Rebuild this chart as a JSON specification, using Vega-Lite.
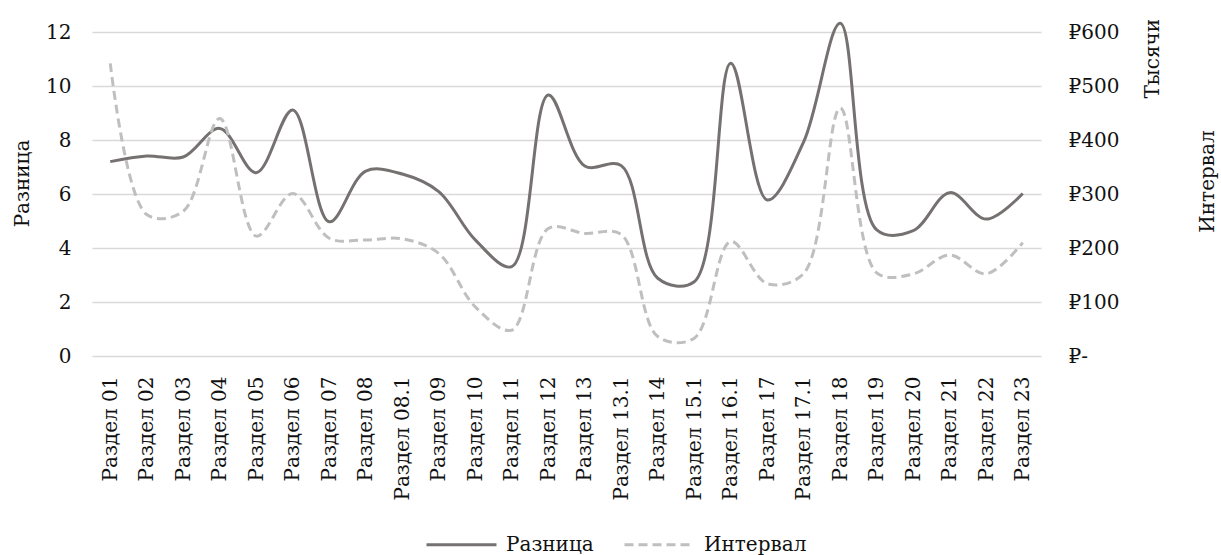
{
  "$schema": "https://vega.github.io/schema/vega-lite/v6.json",
  "width": 949,
  "height": 324,
  "autosize": {"type": "none"},
  "padding": {"left": 92, "top": 32, "right": 180, "bottom": 199},
  "background": "white",
  "config": {
    "font": "DejaVu Serif",
    "view": {"stroke": null}
  },
  "data": {
    "values": [
      {"s": "Раздел 01", "d": 7.2, "i": 542},
      {"s": "Раздел 02", "d": 7.41, "i": 262},
      {"s": "Раздел 03", "d": 7.37, "i": 268},
      {"s": "Раздел 04", "d": 8.43, "i": 440},
      {"s": "Раздел 05", "d": 6.79, "i": 222},
      {"s": "Раздел 06", "d": 9.11, "i": 301},
      {"s": "Раздел 07", "d": 4.97, "i": 218},
      {"s": "Раздел 08", "d": 6.85, "i": 215},
      {"s": "Раздел 08.1", "d": 6.74, "i": 217},
      {"s": "Раздел 09", "d": 6.09, "i": 190},
      {"s": "Раздел 10", "d": 4.3, "i": 91},
      {"s": "Раздел 11", "d": 3.31, "i": 48},
      {"s": "Раздел 12", "d": 9.67, "i": 236},
      {"s": "Раздел 13", "d": 7.04, "i": 227},
      {"s": "Раздел 13.1", "d": 7.05, "i": 225},
      {"s": "Раздел 14", "d": 2.88, "i": 36},
      {"s": "Раздел 15.1", "d": 2.75, "i": 33},
      {"s": "Раздел 16.1", "d": 10.84, "i": 212},
      {"s": "Раздел 17", "d": 5.78, "i": 134},
      {"s": "Раздел 17.1", "d": 7.94, "i": 153},
      {"s": "Раздел 18", "d": 12.32, "i": 459},
      {"s": "Раздел 19", "d": 4.67, "i": 154},
      {"s": "Раздел 20", "d": 4.64, "i": 152},
      {"s": "Раздел 21", "d": 6.05, "i": 187},
      {"s": "Раздел 22", "d": 5.07, "i": 152},
      {"s": "Раздел 23", "d": 6.02, "i": 210}
    ]
  },
  "layer": [
    {
      "mark": {"type": "line", "interpolate": "catmull-rom", "strokeWidth": 3},
      "encoding": {
        "x": {
          "field": "s", "type": "nominal", "sort": null,
          "scale": {"paddingInner": 0, "paddingOuter": 0},
          "axis": {"title": null, "labelAngle": -90, "labelAlign": "right", "labelBaseline": "middle", "labelPadding": 20, "labelFont": "DejaVu Serif", "labelFontSize": 20, "labelColor": "#111111", "labelLimit": 300, "ticks": false, "domain": false, "grid": false}
        },
        "y": {
          "field": "d", "type": "quantitative",
          "scale": {"domain": [0, 12], "nice": false, "zero": true},
          "axis": {"title": "Разница", "values": [0, 2, 4, 6, 8, 10, 12], "labelFont": "DejaVu Serif", "titleFont": "DejaVu Serif", "labelFontSize": 20, "labelColor": "#111111", "titleFontSize": 20, "titleFontWeight": "normal", "titleColor": "#111111", "ticks": false, "domain": false, "labelPadding": 21, "grid": true, "gridColor": "#d9d9d9", "gridWidth": 1.5, "titleAngle": -90, "titleX": -70, "titleY": 151, "titleAlign": "center", "titleBaseline": "middle"}
        },
        "color": {
          "datum": "Разница", "type": "nominal",
          "scale": {"domain": ["Разница", "Интервал"], "range": ["#767171", "#BFBFBF"]},
          "legend": {
            "title": null, "orient": "none", "direction": "horizontal", "legendX": 333, "legendY": 476,
            "symbolType": "stroke", "symbolSize": 4900, "symbolStrokeWidth": 3,
            "labelFont": "DejaVu Serif", "labelFontSize": 20, "labelColor": "#111111", "labelOffset": 8, "columnPadding": 24,
            "encode": {"symbols": {"update": {"strokeDash": {"signal": "datum.value === 'Интервал' ? [9, 5] : [1, 0]"}}}}
          }
        }
      }
    },
    {
      "mark": {"type": "line", "interpolate": "catmull-rom", "strokeWidth": 3, "strokeDash": [9, 5]},
      "encoding": {
        "x": {"field": "s", "type": "nominal", "sort": null},
        "y": {
          "field": "i", "type": "quantitative",
          "scale": {"domain": [0, 600], "nice": false},
          "axis": {"orient": "right", "title": "Интервал", "values": [0, 100, 200, 300, 400, 500, 600], "labelExpr": "datum.value === 0 ? '₽-' : '₽' + datum.value", "labelFont": "DejaVu Serif", "titleFont": "DejaVu Serif", "labelFontSize": 20, "labelColor": "#111111", "titleFontSize": 20, "titleFontWeight": "normal", "titleColor": "#111111", "ticks": false, "domain": false, "grid": false, "labelPadding": 27, "titleAngle": -90, "titleX": 166, "titleY": 149, "titleAlign": "center", "titleBaseline": "middle"}
        },
        "color": {"datum": "Интервал", "type": "nominal"}
      }
    },
    {
      "mark": {"type": "rule", "opacity": 0},
      "encoding": {
        "y": {
          "datum": 600, "type": "quantitative",
          "scale": {"domain": [0, 600], "nice": false},
          "axis": {"orient": "right", "title": "Тысячи", "labels": false, "ticks": false, "domain": false, "grid": false, "titleFont": "DejaVu Serif", "titleFontSize": 20, "titleFontWeight": "normal", "titleColor": "#111111", "titleAngle": -90, "titleX": 111, "titleY": 66, "titleAlign": "left", "titleBaseline": "middle"}
        }
      }
    }
  ],
  "resolve": {"scale": {"y": "independent"}}
}
